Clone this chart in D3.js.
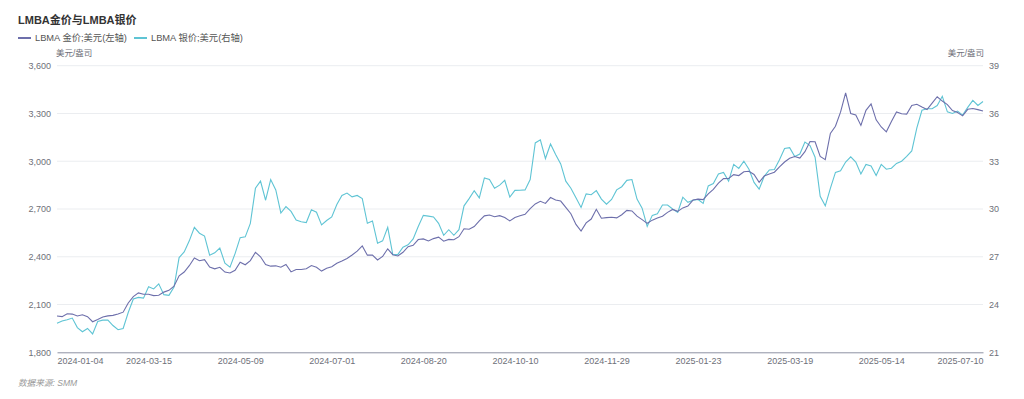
<!DOCTYPE html>
<html>
<head>
<meta charset="utf-8">
<script src="https://cdn.jsdelivr.net/npm/d3@7/dist/d3.min.js"></script>
<style>
  body { margin: 0; background: #fff; }
  svg text { font-family: "Liberation Sans", "Noto Sans CJK SC", sans-serif; }
</style>
</head>
<body>
<svg id="chart"></svg>
<script>
// trading days (every other session, roughly)
var dates = [
  "2024-01-04","2024-01-08","2024-01-11","2024-01-16","2024-01-19","2024-01-24","2024-01-29","2024-02-01","2024-02-06","2024-02-09",
  "2024-02-14","2024-02-19","2024-02-22","2024-02-27","2024-03-01","2024-03-05","2024-03-08","2024-03-11","2024-03-15",
  "2024-03-19","2024-03-21","2024-03-25","2024-03-27","2024-04-02","2024-04-04","2024-04-08","2024-04-10","2024-04-12","2024-04-16",
  "2024-04-18","2024-04-22","2024-04-24","2024-04-26","2024-04-30","2024-05-02","2024-05-07","2024-05-09",
  "2024-05-13","2024-05-15","2024-05-17","2024-05-21","2024-05-23","2024-05-28","2024-05-30","2024-06-03","2024-06-05","2024-06-07",
  "2024-06-11","2024-06-13","2024-06-17","2024-06-19","2024-06-21","2024-06-25","2024-06-27","2024-07-01",
  "2024-07-03","2024-07-05","2024-07-09","2024-07-11","2024-07-15","2024-07-17","2024-07-19","2024-07-23","2024-07-25","2024-07-29",
  "2024-07-31","2024-08-02","2024-08-06","2024-08-08","2024-08-12","2024-08-14","2024-08-16","2024-08-20",
  "2024-08-22","2024-08-27","2024-08-29","2024-09-02","2024-09-04","2024-09-06","2024-09-10","2024-09-12","2024-09-16","2024-09-18",
  "2024-09-20","2024-09-24","2024-09-26","2024-09-30","2024-10-02","2024-10-04","2024-10-08","2024-10-10",
  "2024-10-14","2024-10-16","2024-10-18","2024-10-22","2024-10-24","2024-10-28","2024-10-30","2024-11-01","2024-11-05","2024-11-07",
  "2024-11-11","2024-11-13","2024-11-15","2024-11-19","2024-11-21","2024-11-25","2024-11-27","2024-11-29",
  "2024-12-03","2024-12-05","2024-12-09","2024-12-11","2024-12-13","2024-12-17","2024-12-19","2024-12-23","2024-12-27","2024-12-31",
  "2025-01-03","2025-01-07","2025-01-09","2025-01-13","2025-01-15","2025-01-17","2025-01-21","2025-01-23",
  "2025-01-27","2025-01-29","2025-01-31","2025-02-04","2025-02-06","2025-02-10","2025-02-12","2025-02-14","2025-02-18","2025-02-20",
  "2025-02-24","2025-02-26","2025-02-28","2025-03-04","2025-03-07","2025-03-11","2025-03-14","2025-03-19",
  "2025-03-21","2025-03-25","2025-03-27","2025-03-31","2025-04-02","2025-04-04","2025-04-08","2025-04-10","2025-04-14","2025-04-16",
  "2025-04-23","2025-04-25","2025-04-29","2025-05-01","2025-05-06","2025-05-08","2025-05-12","2025-05-14",
  "2025-05-16","2025-05-20","2025-05-22","2025-05-27","2025-05-29","2025-06-02","2025-06-04","2025-06-06","2025-06-09","2025-06-11",
  "2025-06-13","2025-06-17","2025-06-19","2025-06-23","2025-06-25","2025-06-27","2025-07-01","2025-07-03","2025-07-08","2025-07-10"
];

// LBMA gold, USD/oz (left axis)
var gold = [
  2028,2024,2042,2040,2028,2036,2024,1992,2006,2022,
  2029,2032,2040,2052,2110,2150,2173,2165,2165,2156,
  2158,2178,2189,2215,2280,2304,2344,2392,2375,2382,
  2335,2324,2334,2304,2298,2315,2366,2350,2376,2428,
  2400,2351,2341,2343,2334,2352,2305,2320,2320,2325,
  2345,2334,2310,2328,2337,2359,2373,2389,2411,2435,
  2468,2410,2410,2380,2402,2450,2413,2405,2428,2463,
  2472,2508,2512,2499,2514,2523,2498,2509,2507,2526,
  2576,2573,2590,2626,2657,2662,2651,2658,2646,2625,
  2647,2657,2667,2703,2732,2748,2735,2772,2756,2750,
  2710,2670,2603,2562,2613,2637,2698,2642,2646,2648,
  2644,2664,2691,2688,2655,2633,2610,2630,2644,2655,
  2679,2697,2685,2707,2718,2756,2762,2759,2795,2823,
  2862,2891,2892,2916,2910,2934,2937,2917,2867,2907,
  2920,2931,2965,2995,3019,3030,3020,3060,3124,3122,
  3030,3010,3175,3220,3308,3430,3300,3290,3225,3320,
  3360,3260,3215,3185,3250,3310,3298,3296,3350,3358,
  3340,3325,3365,3405,3378,3356,3318,3306,3285,3326,
  3331,3324,3315
];

// LBMA silver, USD/oz (right axis)
var silver = [
  22.83,22.96,23.05,23.15,22.55,22.29,22.5,22.15,22.93,23.02,
  23.02,22.68,22.42,22.5,23.5,24.35,24.45,24.4,25.12,24.98,
  25.3,24.62,24.58,25.1,26.95,27.3,28.0,28.85,28.48,28.3,
  27.1,27.25,27.55,26.6,26.35,27.2,28.2,28.25,29.1,31.3,
  31.75,30.55,31.85,31.2,29.75,30.15,29.85,29.3,29.2,29.15,
  29.95,29.8,29.0,29.28,29.5,30.28,30.85,31.0,30.76,30.85,
  30.65,29.1,29.25,27.85,28.0,28.85,27.13,27.15,27.6,27.75,
  28.12,28.9,29.6,29.55,29.5,29.1,28.35,28.7,28.35,28.7,
  30.2,30.65,31.15,30.7,31.95,31.85,31.3,31.5,31.8,30.75,
  31.17,31.18,31.2,31.85,34.15,34.35,33.17,34.08,33.42,32.83,
  31.75,31.3,30.7,30.1,30.95,30.9,31.15,30.62,30.3,30.6,
  31.2,31.4,31.8,31.85,30.62,30.05,28.9,29.6,29.7,30.25,
  30.25,30.0,29.78,30.74,30.42,30.55,30.6,30.35,31.45,31.6,
  32.2,32.3,31.75,32.8,32.55,33.0,32.5,31.67,31.25,32.05,
  32.45,32.48,33.1,33.8,33.85,33.3,33.45,34.2,33.98,33.25,
  30.8,30.2,31.3,32.3,32.4,32.95,33.28,32.95,32.2,32.8,
  32.7,32.1,32.8,32.5,32.56,32.86,33.0,33.3,33.65,35.1,
  36.2,36.3,36.3,36.5,37.08,36.1,36.0,36.15,35.9,36.38,
  36.82,36.5,36.75
];

var xTicks = ["2024-01-04","2024-03-15","2024-05-09","2024-07-01","2024-08-20","2024-10-10",
              "2024-11-29","2025-01-23","2025-03-19","2025-05-14","2025-07-10"];
var leftTicks = [1800, 2100, 2400, 2700, 3000, 3300, 3600];
var rightTicks = [21, 24, 27, 30, 33, 36, 39];

var seriesNames = ["LBMA 金价;美元(左轴)", "LBMA 银价;美元(右轴)"];
var colors = ["#6d6fab", "#5fc4d4"];

var W = 1024, H = 399;
var plotLeft = 57, plotRight = 983, plotTop = 65.7, plotBottom = 352.3;

var svg = d3.select("#chart")
  .attr("width", W)
  .attr("height", H);

var x = d3.scalePoint().domain(dates).range([plotLeft, plotRight]);
var yL = d3.scaleLinear().domain([1800, 3600]).range([plotBottom, plotTop]);
var yR = d3.scaleLinear().domain([21, 39]).range([plotBottom, plotTop]);

// gridlines
svg.append("g")
  .selectAll("line")
  .data(leftTicks.slice(1))
  .enter().append("line")
    .attr("x1", plotLeft)
    .attr("x2", plotRight)
    .attr("y1", function(d) { return yL(d); })
    .attr("y2", function(d) { return yL(d); })
    .attr("stroke", "#ebedf0")
    .attr("stroke-width", 1);

// left axis
var gl = svg.append("g")
  .attr("transform", "translate(" + plotLeft + ",0)")
  .call(d3.axisLeft(yL).tickValues(leftTicks).tickSize(0).tickPadding(6).tickFormat(d3.format(",")));
gl.select(".domain").remove();
gl.selectAll("text").attr("font-size", "9px").attr("fill", "#6e7079");

// right axis
var gr = svg.append("g")
  .attr("transform", "translate(" + plotRight + ",0)")
  .call(d3.axisRight(yR).tickValues(rightTicks).tickSize(0).tickPadding(6));
gr.select(".domain").remove();
gr.selectAll("text").attr("font-size", "9px").attr("fill", "#6e7079");

// bottom axis
var gx = svg.append("g")
  .attr("transform", "translate(0," + plotBottom + ")")
  .call(d3.axisBottom(x).tickValues(xTicks).tickSize(0).tickPadding(5));
gx.select(".domain").attr("stroke", "#8e92a3").attr("stroke-width", 1);
gx.selectAll("text")
  .attr("font-size", "9px")
  .attr("fill", "#6e7079")
  .attr("text-anchor", function(d, i) {
    if (i === 0) return "start";
    if (i === xTicks.length - 1) return "end";
    return "middle";
  });

// axis names
svg.append("text")
  .attr("x", 56).attr("y", 56)
  .attr("font-size", "8.5px").attr("fill", "#6e7079")
  .text("美元/盎司");
svg.append("text")
  .attr("x", 984).attr("y", 56)
  .attr("text-anchor", "end")
  .attr("font-size", "8.5px").attr("fill", "#6e7079")
  .text("美元/盎司");

// lines
var goldLine = d3.line()
  .x(function(d, i) { return x(dates[i]); })
  .y(function(d) { return yL(d); });
var silverLine = d3.line()
  .x(function(d, i) { return x(dates[i]); })
  .y(function(d) { return yR(d); });

svg.append("path")
  .datum(silver)
  .attr("d", silverLine)
  .attr("fill", "none")
  .attr("stroke", colors[1])
  .attr("stroke-width", 1.1);

svg.append("path")
  .datum(gold)
  .attr("d", goldLine)
  .attr("fill", "none")
  .attr("stroke", colors[0])
  .attr("stroke-width", 1.1);

// title
svg.append("text")
  .attr("x", 18).attr("y", 24)
  .attr("font-size", "11px").attr("font-weight", "bold").attr("fill", "#333")
  .text("LMBA金价与LMBA银价");

// legend
var legendX = [18, 134];
var lg = svg.append("g")
  .selectAll("g")
  .data(seriesNames)
  .enter().append("g")
    .attr("transform", function(d, i) { return "translate(" + legendX[i] + ",38)"; });
lg.append("line")
  .attr("x1", 0).attr("x2", 13)
  .attr("stroke", function(d, i) { return colors[i]; })
  .attr("stroke-width", 2);
lg.append("text")
  .attr("x", 17).attr("y", 3.3)
  .attr("font-size", "9.3px").attr("fill", "#555")
  .text(function(d) { return d; });

// source note
svg.append("text")
  .attr("x", 18).attr("y", 386)
  .attr("font-size", "8.6px").attr("font-style", "italic").attr("fill", "#999")
  .text("数据来源: SMM");
</script>
</body>
</html>
